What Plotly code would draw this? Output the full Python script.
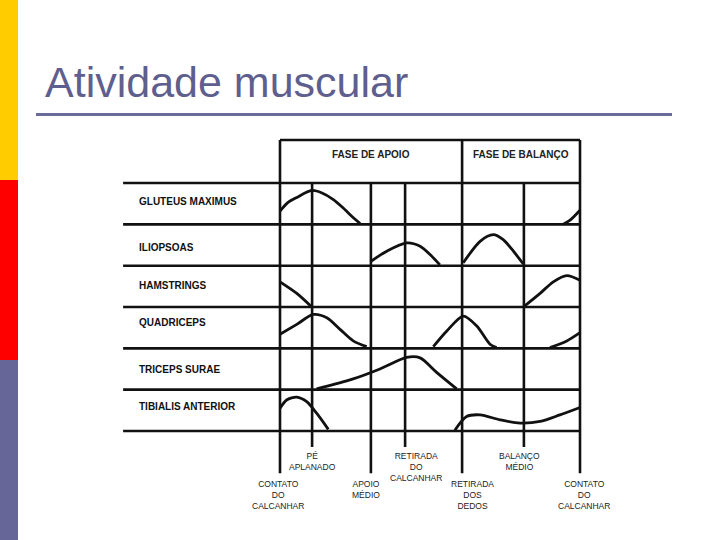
import plotly.graph_objects as go

# --- DADOS DO DIAGRAMA ---
musculos = ["GLUTEUS MAXIMUS", "ILIOPSOAS", "HAMSTRINGS",
            "QUADRICEPS", "TRICEPS SURAE", "TIBIALIS ANTERIOR"]

# eixo x: % do ciclo da marcha; nivel: 0 = linha de base da faixa, 1 = topo
gluteus_x = [0, 2.5, 5.6, 10.6, 14.0, 17.8, 21.0, 23.3, 26.7, None, 94.4, 96.7, 100]
gluteus_n = [0.32, 0.52, 0.65, 0.82, 0.76, 0.60, 0.40, 0.24, 0.02, None, 0.0, 0.10, 0.34]

iliopsoas_x = [30.2, 35.6, 42.2, 46.7, 50.0, 53.3, None, 61.1, 66.7, 71.1, 74.4, 77.8, 81.1]
iliopsoas_n = [0.10, 0.35, 0.55, 0.47, 0.27, 0.02, None, 0.07, 0.59, 0.75, 0.63, 0.35, 0.04]

hamstrings_x = [0, 5.6, 10.6, None, 81.1, 86.7, 91.1, 95.6, 100]
hamstrings_n = [0.61, 0.33, 0.0, None, 0.0, 0.33, 0.61, 0.76, 0.65]

quadriceps_x = [0, 5.6, 11.1, 15.6, 20.0, 24.4, 28.9, None,
                51.1, 55.6, 61.1, 65.6, 70.0, 72.2, None, 90.0, 95.6, 100]
quadriceps_n = [0.34, 0.58, 0.82, 0.74, 0.46, 0.18, 0.04, None,
                0.04, 0.42, 0.78, 0.54, 0.10, 0.02, None, 0.02, 0.18, 0.38]

triceps_x = [12.2, 24.4, 33.3, 42.2, 46.7, 52.2, 58.9]
triceps_n = [0.02, 0.26, 0.50, 0.78, 0.77, 0.42, 0.02]

tibialis_x = [0, 2.2, 5.6, 8.9, 12.2, 16.1, None,
              58.3, 62.2, 66.7, 73.3, 80.0, 86.7, 93.3, 100]
tibialis_n = [0.55, 0.75, 0.82, 0.71, 0.43, 0.04, None,
              0.02, 0.35, 0.39, 0.27, 0.19, 0.23, 0.39, 0.57]

curvas_x = [gluteus_x, iliopsoas_x, hamstrings_x, quadriceps_x, triceps_x, tibialis_x]
curvas_n = [gluteus_n, iliopsoas_n, hamstrings_n, quadriceps_n, triceps_n, tibialis_n]

# eventos da marcha (% do ciclo)
eventos_x = [0, 10.7, 30.3, 41.7, 60.7, 81.3, 100]
eventos_nomes = ["CONTATO<br>DO<br>CALCANHAR", "PÉ<br>APLANADO", "APOIO<br>MÉDIO",
                 "RETIRADA<br>DO<br>CALCANHAR", "RETIRADA<br>DOS<br>DEDOS",
                 "BALANÇO<br>MÉDIO", "CONTATO<br>DO<br>CALCANHAR"]
eventos_rotulo_x = [-0.7, 10.7, 28.7, 45.3, 64.0, 79.7, 101.3]

fases = ["FASE DE APOIO", "FASE DE BALANÇO"]
fases_limites = [0, 60.7, 100]

# --- GEOMETRIA (px -> unidades dos eixos) ---
PX_POR_PCT = 3.0
X0_PX = 280
ALT_FAIXA = 41.33
BASE_PX = 431
n_faixas = len(musculos)
topo_cab = n_faixas + 1.04
pos_rotulo = [0.56, 0.44, 0.53, 0.63, 0.48, 0.60]

fig = go.Figure()

# curvas de atividade
for i, (xs, ns) in enumerate(zip(curvas_x, curvas_n)):
    base = n_faixas - 1 - i
    ys = [None if v is None else base + v for v in ns]
    fig.add_trace(go.Scatter(x=xs, y=ys, mode="lines",
                             line=dict(color="#111111", width=2.8, shape="spline", smoothing=0.8),
                             hoverinfo="skip", connectgaps=False))

shapes = []
linha = dict(color="#111111", width=2.6)

# linhas horizontais das faixas
for k in range(n_faixas + 1):
    shapes.append(dict(type="line", xref="x", yref="y", x0=-52.3, x1=100,
                       y0=k, y1=k, line=linha))
# topo do cabeçalho
shapes.append(dict(type="line", xref="x", yref="y", x0=0, x1=100,
                   y0=topo_cab, y1=topo_cab, line=linha))

# linhas verticais dos eventos
for j, ex in enumerate(eventos_x):
    topo = topo_cab if ex in fases_limites else n_faixas
    fundo = -1.02 if j % 2 == 0 else -0.39
    shapes.append(dict(type="line", xref="x", yref="y", x0=ex, x1=ex,
                       y0=fundo, y1=topo, line=linha))

# barra lateral colorida e sublinhado do titulo
shapes.append(dict(type="rect", xref="paper", yref="paper", x0=0, x1=18 / 720,
                   y0=1 - 180 / 540, y1=1, fillcolor="#FFCC00", line_width=0))
shapes.append(dict(type="rect", xref="paper", yref="paper", x0=0, x1=18 / 720,
                   y0=1 - 360 / 540, y1=1 - 180 / 540, fillcolor="#FF0000", line_width=0))
shapes.append(dict(type="rect", xref="paper", yref="paper", x0=0, x1=18 / 720,
                   y0=0, y1=1 - 360 / 540, fillcolor="#666699", line_width=0))
shapes.append(dict(type="line", xref="paper", yref="paper", x0=36 / 720, x1=672 / 720,
                   y0=1 - 114.5 / 540, y1=1 - 114.5 / 540,
                   line=dict(color="#6B6B99", width=3)))

anots = []
anots.append(dict(text="Atividade muscular", xref="paper", yref="paper",
                  x=43 / 720, y=1 - 82 / 540, xanchor="left", yanchor="middle",
                  showarrow=False, font=dict(family="Liberation Sans, Arial", size=43, color="#5F5F8F")))

for i, nome in enumerate(musculos):
    anots.append(dict(text=nome, x=-47.7, y=n_faixas - 1 - i + pos_rotulo[i],
                      xanchor="left", yanchor="middle", showarrow=False,
                      font=dict(family="Liberation Sans, Arial", size=10, color="#111111", weight="bold")))

for f, nome in enumerate(fases):
    cx = (fases_limites[f] + fases_limites[f + 1]) / 2
    anots.append(dict(text=nome, x=cx, y=n_faixas + 0.68, xanchor="center", yanchor="middle",
                      showarrow=False,
                      font=dict(family="Liberation Sans, Arial", size=10, color="#222222", weight="bold")))

for j, nome in enumerate(eventos_nomes):
    yt = -1.11 if j % 2 == 0 else -0.44
    anots.append(dict(text=nome, x=eventos_rotulo_x[j], y=yt, xanchor="center", yanchor="top",
                      showarrow=False, align="center",
                      font=dict(family="Liberation Sans, Arial", size=8.5, color="#222222")))

fig.update_layout(
    width=720, height=540,
    margin=dict(l=0, r=0, t=0, b=0),
    paper_bgcolor="white", plot_bgcolor="white",
    showlegend=False,
    shapes=shapes, annotations=anots,
    xaxis=dict(range=[-X0_PX / PX_POR_PCT, (720 - X0_PX) / PX_POR_PCT], visible=False, fixedrange=True),
    yaxis=dict(range=[(BASE_PX - 540) / ALT_FAIXA, BASE_PX / ALT_FAIXA], visible=False, fixedrange=True),
)

# sem margem da pagina, para o grafico ocupar a janela inteira
fig.write_html("out.html", config={"displayModeBar": False},
               post_script="document.body.style.margin='0';")
